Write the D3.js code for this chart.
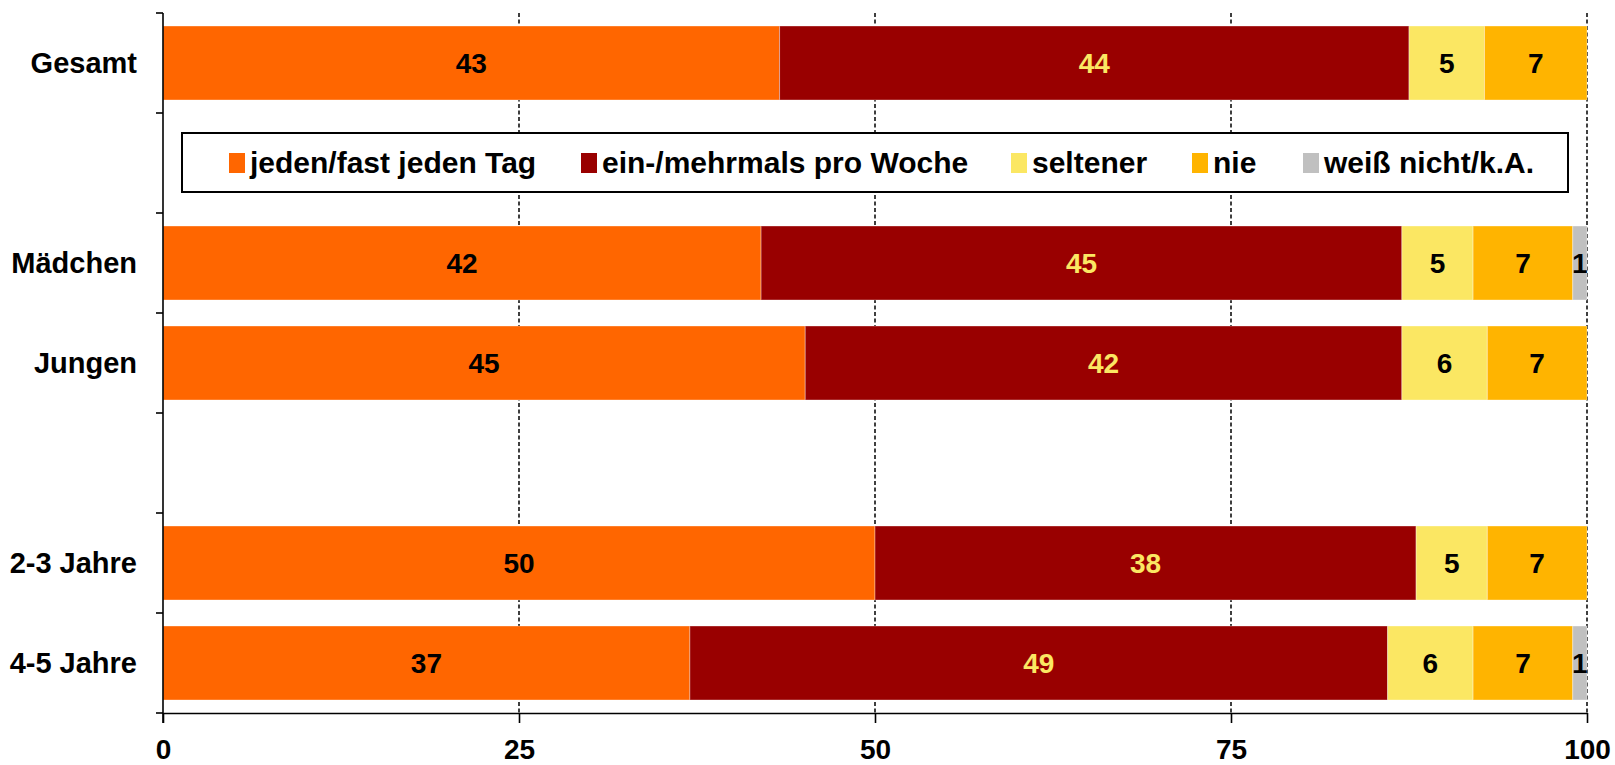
<!DOCTYPE html>
<html>
<head>
<meta charset="utf-8">
<script src="https://cdn.jsdelivr.net/npm/d3@7"></script>
<style>
  html, body { margin: 0; padding: 0; background: #fff; }
  svg { display: block; font-family: "Liberation Sans", Arial, sans-serif; font-weight: bold; }
</style>
</head>
<body>
<svg id="chart" width="1615" height="765"></svg>
<script>
// ---- data ----
const slots = ["Gesamt", "gap1", "Mädchen", "Jungen", "gap2", "2-3 Jahre", "4-5 Jahre"];
const categories = ["Gesamt", "Mädchen", "Jungen", "2-3 Jahre", "4-5 Jahre"];
const seriesNames = ["jeden/fast jeden Tag", "ein-/mehrmals pro Woche", "seltener", "nie", "weiß nicht/k.A."];
const daily    = [43.3, 42.0, 45.1, 50.0, 37.0];
const weekly   = [44.2, 45.0, 41.9, 38.0, 49.0];
const rarely   = [5.3, 5.0, 6.0, 5.0, 6.0];
const never    = [7.2, 7.0, 7.0, 7.0, 7.0];
const dontKnow = [0, 1.0, 0, 0, 1.0];
const xTicks = [0, 25, 50, 75, 100];

// ---- styles ----
const colors = ["#FF6600", "#990000", "#FBE763", "#FFB400", "#C0C0C0"];
const labelColors = ["#000", "#FBE763", "#000", "#000", "#000"];
const legendX = [229, 581, 1011, 1192, 1303];

const svg = d3.select("#chart");
const x = d3.scaleLinear().domain([0, 100]).range([163, 1587]);
const y = d3.scaleBand().domain(slots).range([13, 713]).paddingInner(0.26).paddingOuter(0.13);

const seriesValues = [daily, weekly, rarely, never, dontKnow];
const rows = categories.map((c, i) => {
  const o = { cat: c };
  seriesNames.forEach((s, k) => o[s] = seriesValues[k][i]);
  return o;
});
const stacked = d3.stack().keys(seriesNames)(rows);

// gridlines
svg.append("g").selectAll("line").data(xTicks.filter(t => t > 0)).join("line")
  .attr("x1", d => x(d)).attr("x2", d => x(d))
  .attr("y1", y.range()[0]).attr("y2", y.range()[1])
  .attr("stroke", "#000").attr("stroke-width", 1.5).attr("stroke-dasharray", "4,2.5");

// bars
const g = svg.append("g");
stacked.forEach((layer, k) => {
  g.append("g").selectAll("rect").data(layer).join("rect")
    .attr("x", d => x(d[0]))
    .attr("width", d => x(d[1]) - x(d[0]))
    .attr("y", d => y(d.data.cat))
    .attr("height", y.bandwidth())
    .attr("fill", colors[k])
    .attr("stroke", "rgba(255,255,255,0.35)").attr("stroke-width", 1);
});
// labels
stacked.forEach((layer, k) => {
  g.append("g").selectAll("text").data(layer.filter(d => d[1] - d[0] > 0)).join("text")
    .attr("x", d => x((d[0] + d[1]) / 2))
    .attr("y", d => y(d.data.cat) + y.bandwidth() / 2)
    .attr("dy", "0.36em")
    .attr("text-anchor", "middle")
    .attr("font-size", 28)
    .attr("fill", labelColors[k])
    .text(d => Math.round(d[1] - d[0]));
});

// y axis
const yAxis = svg.append("g");
yAxis.append("line").attr("x1", x(0)).attr("x2", x(0))
  .attr("y1", y.range()[0]).attr("y2", y.range()[1] + 10)
  .attr("stroke", "#000").attr("stroke-width", 1.6);
yAxis.selectAll("line.tick").data(d3.range(slots.length + 1)).join("line")
  .attr("class", "tick")
  .attr("x1", x(0) - 7).attr("x2", x(0))
  .attr("y1", i => y.range()[0] + i * y.step()).attr("y2", i => y.range()[0] + i * y.step())
  .attr("stroke", "#000").attr("stroke-width", 1.6);
yAxis.selectAll("text").data(categories).join("text")
  .attr("x", 137)
  .attr("y", d => y(d) + y.bandwidth() / 2)
  .attr("dy", "0.36em")
  .attr("text-anchor", "end")
  .attr("font-size", 29)
  .attr("fill", "#000")
  .text(d => d);

// x axis
const xAxis = svg.append("g").attr("transform", `translate(0,${y.range()[1]})`)
  .call(d3.axisBottom(x).tickValues(xTicks).tickSize(10).tickSizeOuter(0).tickFormat(d3.format("d")));
xAxis.select(".domain").attr("stroke", "#000").attr("stroke-width", 1.6);
xAxis.selectAll(".tick line").attr("stroke", "#000").attr("stroke-width", 1.6);
xAxis.selectAll(".tick text")
  .attr("y", 46).attr("dy", 0)
  .attr("font-size", 28).attr("font-weight", "bold")
  .attr("font-family", "\"Liberation Sans\", Arial, sans-serif")
  .attr("fill", "#000");

// legend
const lg = svg.append("g");
lg.append("rect").attr("x", 182).attr("y", 133).attr("width", 1386).attr("height", 59)
  .attr("fill", "#fff").attr("stroke", "#000").attr("stroke-width", 2);
seriesNames.forEach((s, k) => {
  lg.append("rect").attr("x", legendX[k]).attr("y", 153).attr("width", 16).attr("height", 20).attr("fill", colors[k]);
  lg.append("text").attr("x", legendX[k] + 21).attr("y", 173)
    .attr("font-size", 30).attr("fill", "#000").text(s);
});
</script>
</body>
</html>
